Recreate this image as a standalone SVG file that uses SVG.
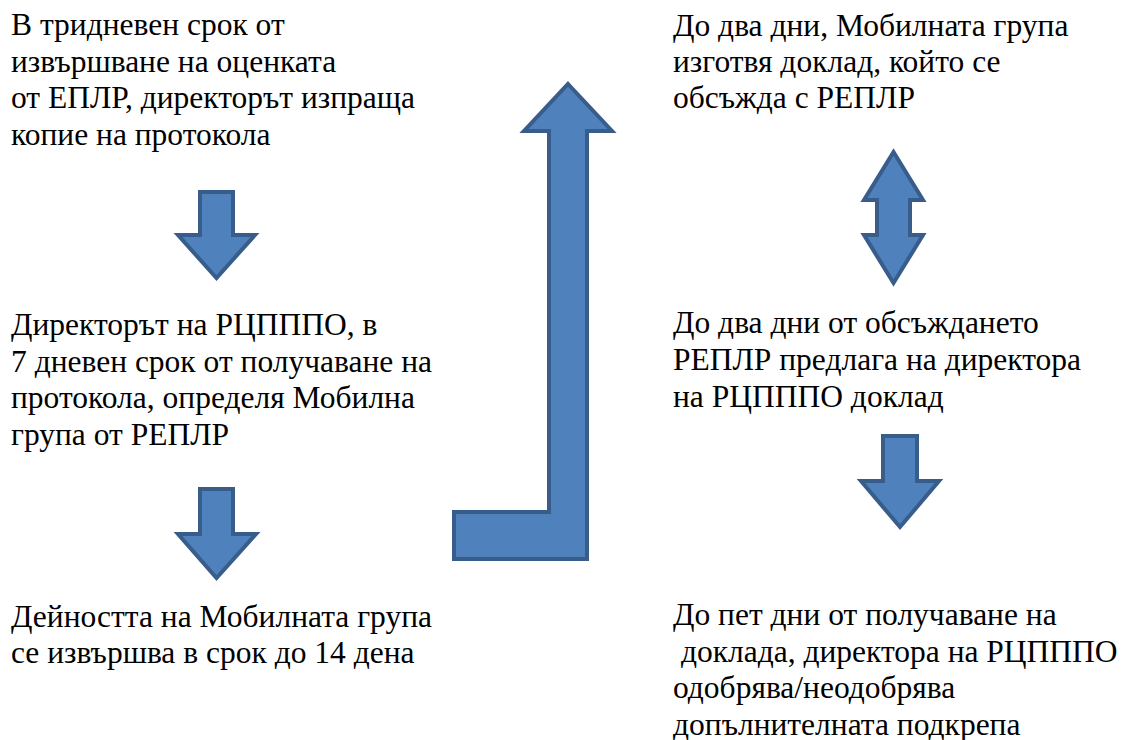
<svg xmlns="http://www.w3.org/2000/svg" width="1128" height="740" viewBox="0 0 1128 740">
<rect width="1128" height="740" fill="#fff"/>
<g id="n1" font-family="serif" font-size="31.5">
<text x="11" y="35" font-family="serif">В тридневен срок от</text>
<text x="11" y="72" font-family="serif">извършване на оценката</text>
<text x="11" y="108" font-family="serif">от ЕПЛР, директорът изпраща</text>
<text x="11" y="145" font-family="serif">копие на протокола</text>
</g>
<g id="n2" font-family="Times New Roman, serif" font-size="31.5">
<text x="11" y="335" font-family="Times New Roman, serif">Директорът на РЦПППО, в</text>
<text x="11" y="372" font-family="Times New Roman, serif">7 дневен срок от получаване на</text>
<text x="11" y="408" font-family="Times New Roman, serif">протокола, определя Мобилна</text>
<text x="11" y="445" font-family="Times New Roman, serif">група от РЕПЛР</text>
</g>
<g id="n3" font-family="Tinos, serif" font-size="31.5">
<text x="11" y="627" font-family="Tinos, serif">Дейността на Мобилната група</text>
<text x="11" y="663" font-family="Tinos, serif">се извършва в срок до 14 дена</text>
</g>
<g id="n4" style="font-family:serif;font-size:31.5px">
<text x="673" y="36" style="font-family:serif">До два дни, Мобилната група</text>
<text x="673" y="72" style="font-family:serif">изготвя доклад, който се</text>
<text x="673" y="108" style="font-family:serif">обсъжда с РЕПЛР</text>
</g>
<g id="n5" font-family="Liberation Serif, serif" font-size="31.5">
<text x="673" y="333">До два дни от обсъждането</text>
<text x="673" y="370">РЕПЛР предлага на директора</text>
<text x="673" y="407">на РЦПППО доклад</text>
</g>
<g id="n6" font-family="Times New Roman, Liberation Serif, serif" font-size="31.5">
<text x="673" y="625" font-family="Times New Roman, Liberation Serif, serif">До пет дни от получаване на</text>
<text x="673" y="662" font-family="Times New Roman, Liberation Serif, serif" xml:space="preserve"> доклада, директора на РЦПППО</text>
<text x="673" y="698" font-family="Times New Roman, Liberation Serif, serif">одобрява/неодобрява</text>
<text x="673" y="735" font-family="Times New Roman, Liberation Serif, serif">допълнителната подкрепа</text>
</g>
<g id="connectors" fill="#4F81BD" stroke="#385D8A" stroke-width="4">
<path d="M200,192 H233 V235 H255 L216.5,278 L178,235 H200 Z"/>
<path d="M200,489 H233 V534 H256 L216.5,578 L178,534 H200 Z"/>
<path d="M883,436 H917 V481 H939 L900,527 L861,481 H883 Z"/>
<path d="M893.5,152 L923,200 H910 V235 H923 L893.5,283 L864,235 H877 V200 H864 Z"/>
<path d="M568,84 L612,131 H587 V559 H454 V512 H549 V131 H524 Z"/>
</g>
</svg>
